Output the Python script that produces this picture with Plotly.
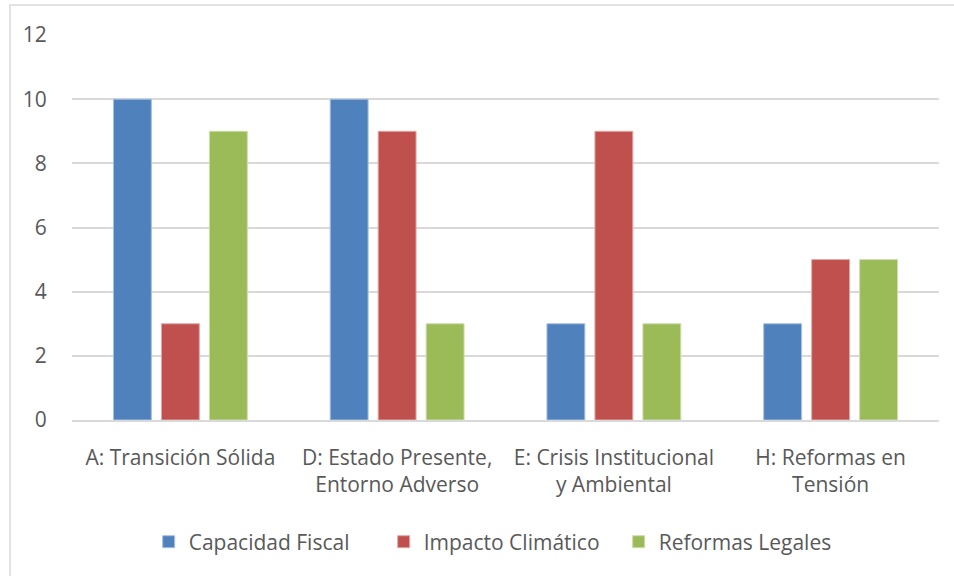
import plotly.graph_objects as go

categories = ["A: Transición Sólida", "D: Estado Presente,<br>Entorno Adverso",
              "E: Crisis Institucional<br>y Ambiental", "H: Reformas en<br>Tensión"]
capacidad_fiscal = [10, 10, 3, 3]
impacto_climatico = [3, 9, 9, 5]
reformas_legales = [9, 3, 3, 5]
y_ticks = [0, 2, 4, 6, 8, 10, 12]

series = [
    ("Capacidad Fiscal", capacidad_fiscal, "#4F81BD", "#A7C0DE"),
    ("Impacto Climático", impacto_climatico, "#C0504D", "#E0A8A6"),
    ("Reformas Legales", reformas_legales, "#9BBB59", "#CDDDAC"),
]

FONT = "Open Sans, Noto Sans, sans-serif"
GRAY = "#595959"
FS = 21

fig = go.Figure()
for name, vals, col, edge in series:
    fig.add_trace(go.Bar(x=categories, y=vals, name=name,
                         marker=dict(color=col, line=dict(color=edge, width=1))))

fig.update_layout(
    width=954, height=576,
    margin=dict(l=72, r=15, t=35, b=156),
    paper_bgcolor="white", plot_bgcolor="white",
    barmode="group", bargap=0.336, bargroupgap=0.21,
    font=dict(family=FONT, color=GRAY, size=FS),
    showlegend=True,
    legend=dict(orientation="h", x=0.495, xanchor="center", y=-0.317, yanchor="middle",
                font=dict(size=FS, color=GRAY), itemwidth=30, traceorder="normal",
                entrywidth=190),
    xaxis=dict(showline=True, linecolor="#D9D9D9", linewidth=1.5, ticks="",
               tickfont=dict(size=FS, color=GRAY), ticklabelstandoff=18,
               showgrid=False, zeroline=False),
    yaxis=dict(range=[0, 12], tickvals=y_ticks, showgrid=True, gridcolor="#D9D9D9",
               gridwidth=1.5, zeroline=False, showline=False,
               tickfont=dict(size=FS, color=GRAY), ticks="outside", ticklen=0,
               ticklabelstandoff=20),
    shapes=[dict(type="rect", xref="paper", yref="paper", x0=-0.0715, x1=1.2,
                 y0=-0.6, y1=1.078, line=dict(color="#D9D9D9", width=1.5),
                 fillcolor="rgba(0,0,0,0)", layer="below")],
)

fig.write_html("out.html", config={"displayModeBar": False},
               post_script="document.body.style.margin='0';")
